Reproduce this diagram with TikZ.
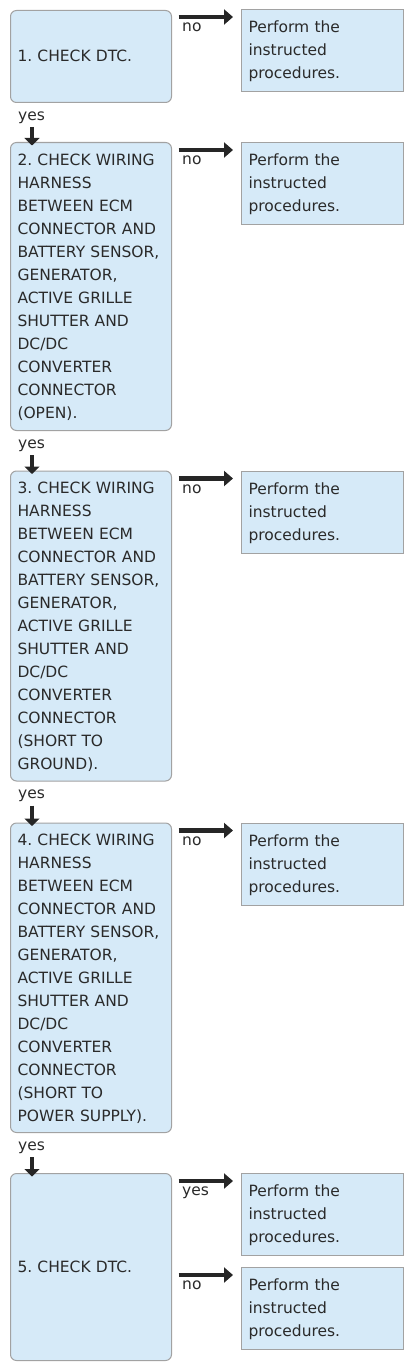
\documentclass[tikz,border=0pt]{standalone}
\usepackage{fontspec}
\setmainfont{DejaVu Sans}
\usetikzlibrary{arrows.meta,calc}
\definecolor{boxfill}{HTML}{D6EAF8}
\definecolor{boxline}{HTML}{A2A2A2}
\definecolor{txt}{HTML}{2A2A2A}
\definecolor{arrcol}{HTML}{262626}
\newcommand{\ls}{\rule[-6.05pt]{0pt}{23pt}}
\frenchspacing
\tikzset{
  stepbox/.style={draw=boxline, fill=boxfill, rounded corners=6pt, line width=1pt,
    text width=147pt, inner xsep=7pt, inner ysep=0pt, align=left, anchor=north west,
    font=\fontsize{15.5}{23}\selectfont\frenchspacing, text=txt},
  resbox/.style={draw=boxline, fill=boxfill, line width=1pt,
    text width=148pt, inner xsep=7pt, inner ysep=0pt, align=left, anchor=north west,
    minimum height=82pt, font=\fontsize{15.5}{23}\selectfont, text=txt},
  lbl/.style={font=\fontsize{15.5}{23}\selectfont, text=txt, inner sep=0pt, anchor=base west},
  rarr/.style={draw=arrcol, line width=4.5pt, -{Triangle[width=15pt,length=9pt]}},
  darr/.style={draw=arrcol, line width=4.5pt, -{Triangle[width=15pt,length=7.5pt]}},
}
\begin{document}
\begin{tikzpicture}[x=1pt,y=1pt]
\useasboundingbox (0,0) rectangle (413,-1370);
% left boxes
\node[stepbox, minimum height=92pt] (b1) at (10,-10) {\ls 1. CHECK DTC.};
\node[stepbox, minimum height=288pt] (b2) at (10,-142) {\ls 2. CHECK WIRING\\ \ls HARNESS\\ \ls BETWEEN ECM\\ \ls CONNECTOR AND\\ \ls BATTERY SENSOR,\\ \ls GENERATOR,\\ \ls ACTIVE GRILLE\\ \ls SHUTTER AND\\ \ls DC/DC\\ \ls CONVERTER\\ \ls CONNECTOR\\ \ls (OPEN).};
\node[stepbox, minimum height=310pt] (b3) at (10,-470.5) {\ls 3. CHECK WIRING\\ \ls HARNESS\\ \ls BETWEEN ECM\\ \ls CONNECTOR AND\\ \ls BATTERY SENSOR,\\ \ls GENERATOR,\\ \ls ACTIVE GRILLE\\ \ls SHUTTER AND\\ \ls DC/DC\\ \ls CONVERTER\\ \ls CONNECTOR\\ \ls (SHORT TO\\ \ls GROUND).};
\node[stepbox, minimum height=309.5pt] (b4) at (10,-822.5) {\ls 4. CHECK WIRING\\ \ls HARNESS\\ \ls BETWEEN ECM\\ \ls CONNECTOR AND\\ \ls BATTERY SENSOR,\\ \ls GENERATOR,\\ \ls ACTIVE GRILLE\\ \ls SHUTTER AND\\ \ls DC/DC\\ \ls CONVERTER\\ \ls CONNECTOR\\ \ls (SHORT TO\\ \ls POWER SUPPLY).};
\node[stepbox, minimum height=187pt] (b5) at (10,-1173) {\ls 5. CHECK DTC.};
% right boxes
\node[resbox] (r1) at (241,-9) {\ls Perform the\\ \ls instructed\\ \ls procedures.};
\node[resbox] (r2) at (241,-142) {\ls Perform the\\ \ls instructed\\ \ls procedures.};
\node[resbox] (r3) at (241,-470.5) {\ls Perform the\\ \ls instructed\\ \ls procedures.};
\node[resbox] (r4) at (241,-822.5) {\ls Perform the\\ \ls instructed\\ \ls procedures.};
\node[resbox] (r5a) at (241,-1173) {\ls Perform the\\ \ls instructed\\ \ls procedures.};
\node[resbox] (r5b) at (241,-1267) {\ls Perform the\\ \ls instructed\\ \ls procedures.};
% right arrows with labels
\foreach \b/\r/\t/\n in {b1/r1/no/n1, b2/r2/no/n2, b3/r3/no/n3, b4/r4/no/n4, b5/r5a/yes/n5a, b5/r5b/no/n5b}{
  \draw[rarr] ($(\b.east |- \r.north)+(6.5,-8)$) -- ($(\r.north west)+(-8,-8)$);
  \node[lbl] (\n) at ($(\b.east |- \r.north)+(10,-22.7)$) {\t};
}
% down arrows with labels
\foreach \a/\c/\n in {b1/b2/y1, b2/b3/y2, b3/b4/y3, b4/b5/y4}{
  \node[lbl] (\n) at ($(\a.south west)+(8,-17.2)$) {yes};
  \draw[darr] ($(\a.south west)+(22,-24)$) -- ($(\c.north west)+(22,-3.5)$);
}
\end{tikzpicture}
\end{document}
